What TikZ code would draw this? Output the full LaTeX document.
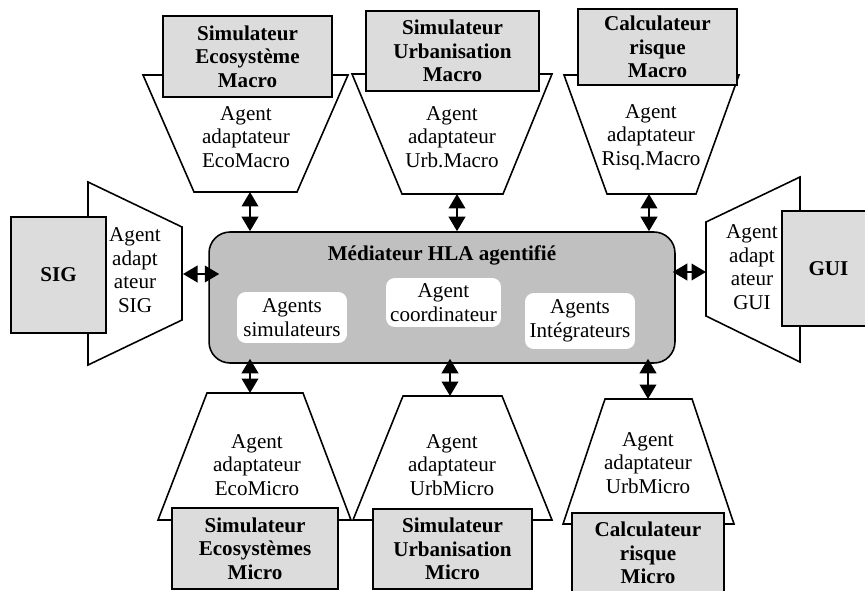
\documentclass[tikz,border=0pt]{standalone}
\usepackage{fontspec}
\setmainfont{Liberation Serif}
\definecolor{toolfill}{RGB}{220, 220, 220}
\definecolor{medfill}{RGB}{192, 192, 192}
\usetikzlibrary{arrows.meta, positioning}
\tikzset{
    every node/.style={font=\fontsize{12}{13.4}\selectfont, align=center},
    tool/.style={draw, line width=.9pt, fill=toolfill, inner sep=0pt,
        font=\fontsize{12}{13.4}\selectfont\bfseries},
    adapter/.style={draw, line width=.9pt, fill=white, line join=miter},
    agentbox/.style={fill=white, rounded corners=5pt, inner sep=0pt},
    link/.style={line width=1.3pt,
        {Triangle[length=2.9mm, width=3.3mm]}-{Triangle[length=2.9mm, width=3.3mm]}},
}
\begin{document}
\begin{tikzpicture}[x=0.02cm, y=-0.02cm]
    \useasboundingbox (0, 0) rectangle (865, 591);
    \clip (0, 0) rectangle (865, 591);
    % mediateur
    \node[draw, line width=.9pt, fill=medfill, rounded corners=0.42cm,
        minimum width=9.32cm, minimum height=2.62cm] (med) at (442, 297.5) {};
    \node[font=\fontsize{12}{13.4}\selectfont\bfseries] (medtitle) at (442, 255)
        {Médiateur HLA agentifié};
    \node[agentbox, minimum width=2.2cm, minimum height=1.02cm] (agsim)
        at (292, 317.5) {Agents\\simulateurs};
    \node[agentbox, minimum width=2.3cm, minimum height=0.98cm] (agcoord)
        at (443.5, 302.5) {Agent\\coordinateur};
    \node[agentbox, minimum width=2.2cm, minimum height=1.12cm] (agint)
        at (580, 321) {Agents\\Intégrateurs};
    % macro, en haut
    \draw[adapter] (143, 75) -- (348, 75) -- (297, 192) -- (194, 192) -- cycle;
    \draw[adapter] (352, 74) -- (552, 74) -- (503, 194) -- (402, 194) -- cycle;
    \draw[adapter] (564, 75) -- (739, 75) -- (696, 194) -- (607, 194) -- cycle;
    \node (adecomacro) at (246, 137) {Agent\\adaptateur\\EcoMacro};
    \node (adurbmacro) at (452, 137) {Agent\\adaptateur\\Urb.Macro};
    \node (adrisqmacro) at (651, 137) {Agent\\adaptateur\\Risq.Macro};
    \node[tool, minimum width=3.38cm, minimum height=1.62cm] (ecomacro)
        at (247.5, 56.5) {Simulateur\\Ecosystème\\Macro};
    \node[tool, minimum width=3.46cm, minimum height=1.6cm] (urbmacro)
        at (452.5, 51) {Simulateur\\Urbanisation\\Macro};
    \node[tool, minimum width=3.18cm, minimum height=1.52cm] (risqmacro)
        at (657.5, 47) {Calculateur\\risque\\Macro};
    % micro, en bas
    \draw[adapter] (207, 393) -- (303, 393) -- (351, 520) -- (158, 520) -- cycle;
    \draw[adapter] (403, 396) -- (502, 396) -- (552, 520) -- (353, 520) -- cycle;
    \draw[adapter] (605, 399) -- (692, 399) -- (734, 524) -- (563, 524) -- cycle;
    \node (adecomicro) at (257, 465) {Agent\\adaptateur\\EcoMicro};
    \node (adurbmicro) at (452, 465) {Agent\\adaptateur\\UrbMicro};
    \node (adrisqmicro) at (648, 463) {Agent\\adaptateur\\UrbMicro};
    \node[tool, minimum width=3.32cm, minimum height=1.62cm] (ecomicro)
        at (255, 548.5) {Simulateur\\Ecosystèmes\\Micro};
    \node[tool, minimum width=3.18cm, minimum height=1.6cm] (urbmicro)
        at (452.5, 549) {Simulateur\\Urbanisation\\Micro};
    \node[tool, minimum width=3.04cm, minimum height=1.6cm] (risqmicro)
        at (648, 553) {Calculateur\\risque\\Micro};
    % SIG et GUI
    \draw[adapter] (88, 182) -- (182, 227) -- (182, 320) -- (88, 365) -- cycle;
    \draw[adapter] (800, 177) -- (706, 222) -- (706, 316) -- (800, 362) -- cycle;
    \node (adsig) at (135, 270) {Agent\\adapt\\ateur\\SIG};
    \node (adgui) at (752, 267) {Agent\\adapt\\ateur\\GUI};
    \node[tool, minimum width=1.9cm, minimum height=2.32cm] (sig)
        at (58.5, 275) {SIG};
    \node[tool, minimum width=1.86cm, minimum height=2.3cm] (gui)
        at (828.5, 268.5) {GUI};
    % liaisons
    \coordinate (ecomacroport) at (250, 192);
    \coordinate (urbmacroport) at (457, 194);
    \coordinate (risqmacroport) at (649, 194);
    \coordinate (ecomicroport) at (250, 393);
    \coordinate (urbmicroport) at (450, 396);
    \coordinate (risqmicroport) at (648, 399);
    \coordinate (sigport) at (183, 274);
    \coordinate (guiport) at (706, 272);
    \foreach \p in {ecomacroport, urbmacroport, risqmacroport}
        \draw[link] (\p) -- (\p |- med.north);
    \foreach \p in {ecomicroport, urbmicroport, risqmicroport}
        \draw[link] ([yshift=0.1cm]\p |- med.south) -- (\p);
    \draw[link] (sigport) -- ([xshift=0.22cm]sigport -| med.west);
    \draw[link] ([xshift=-0.06cm]guiport -| med.east) -- (guiport);
\end{tikzpicture}
\end{document}
